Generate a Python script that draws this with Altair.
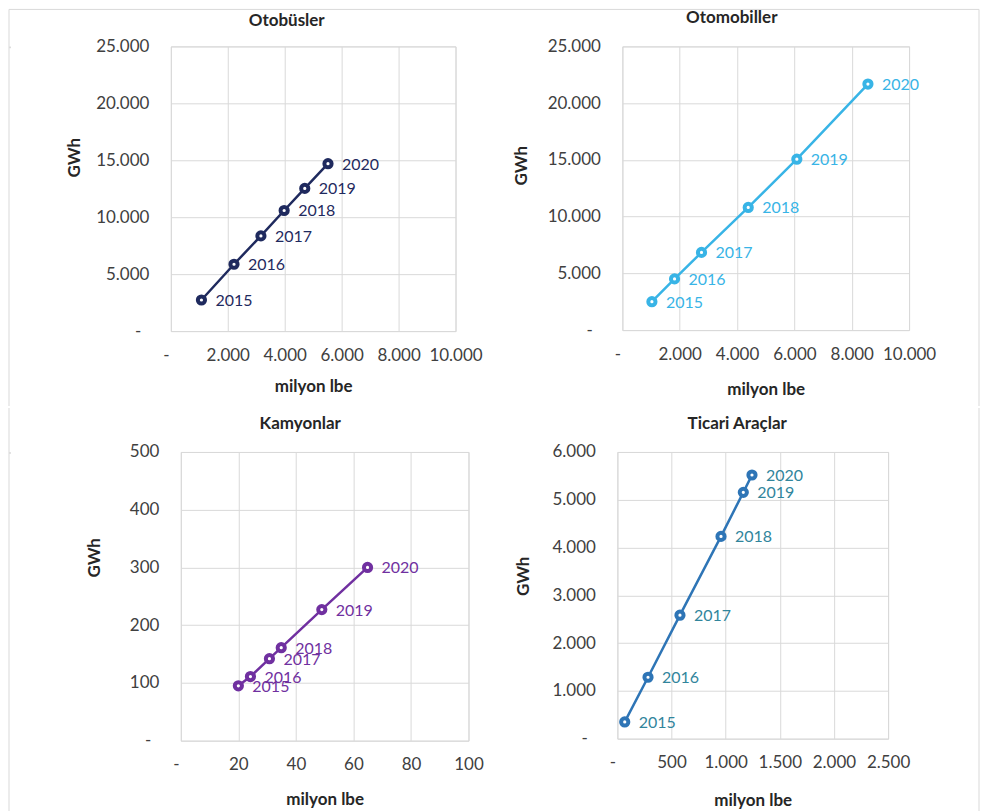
import altair as alt
import pandas as pd

years = ["2015", "2016", "2017", "2018", "2019", "2020"]

bus_x = [1075, 2219, 3164, 3980, 4704, 5520]
bus_y = [2730, 5870, 8360, 10590, 12530, 14700]

car_x = [1030, 1820, 2760, 4390, 6085, 8565]
car_y = [2500, 4510, 6845, 10805, 15060, 21680]

truck_x = [20.0, 24.2, 30.8, 34.9, 49.0, 64.9]
truck_y = [95, 111, 142, 161, 227, 300]

comm_x = [68, 283, 578, 957, 1163, 1243]
comm_y = [350, 1285, 2584, 4233, 5155, 5518]

bus_xticks = [0, 2000, 4000, 6000, 8000, 10000]
bus_yticks = [0, 5000, 10000, 15000, 20000, 25000]
car_xticks = [0, 2000, 4000, 6000, 8000, 10000]
car_yticks = [0, 5000, 10000, 15000, 20000, 25000]
truck_xticks = [0, 20, 40, 60, 80, 100]
truck_yticks = [0, 100, 200, 300, 400, 500]
comm_xticks = [0, 500, 1000, 1500, 2000, 2500]
comm_yticks = [0, 1000, 2000, 3000, 4000, 5000, 6000]

FONT = "Lato"
BORDER = "#d9d9d9"
LBL_EXPR = "datum.value == 0 ? '-' : replace(format(datum.value, ','), ',', '.')"


def one():
    return alt.Chart(pd.DataFrame({"g": [0]}))


def vrule(xpx, y1, y2):
    return one().mark_rule(color=BORDER, strokeWidth=1).encode(
        x=alt.value(xpx), y=alt.value(y1), y2=alt.value(y2))


def hrule(ypx, x1, x2):
    return one().mark_rule(color=BORDER, strokeWidth=1).encode(
        y=alt.value(ypx), x=alt.value(x1), x2=alt.value(x2))


def spacer(layers):
    return alt.layer(*layers).properties(width=1, height=1)


def panel(xs, ys, title, line_color, text_color, xticks, yticks, w, h,
          title_x, title_y, gwh_x, gwh_y, xt_y, extra=()):
    df = pd.DataFrame({"x": xs, "y": ys, "year": years})
    x = alt.X("x:Q",
              scale=alt.Scale(domain=[xticks[0], xticks[-1]], nice=False),
              axis=alt.Axis(values=xticks, title="milyon lbe", titleY=xt_y,
                            titleBaseline="top", titleAlign="center",
                            labelOverlap=False, labelFlush=False,
                            labelOffset={"condition": {"test": "datum.value == 0", "value": -5},
                                         "value": 0},
                            labelExpr=LBL_EXPR, labelPadding=16))
    y = alt.Y("y:Q",
              scale=alt.Scale(domain=[yticks[0], yticks[-1]], nice=False),
              axis=alt.Axis(values=yticks, title="GWh", titleX=gwh_x, titleY=gwh_y,
                            titleAngle=270, titleAlign="center", titleBaseline="bottom",
                            labelOverlap=False, labelFlush=False,
                            labelPadding={"condition": {"test": "datum.value == 0", "value": 30},
                                          "value": 22},
                            labelExpr=LBL_EXPR))
    base = alt.Chart(df)
    line = base.mark_line(color=line_color, strokeWidth=2.5).encode(x=x, y=y, order="year:O")
    pts = base.mark_point(shape="circle", filled=True, fill="white", stroke=line_color,
                          strokeWidth=4, size=52, opacity=1).encode(x=x, y=y)
    txt = base.mark_text(align="left", baseline="middle", dx=14, dy=1, font=FONT,
                         fontSize=16, color=text_color).encode(x=x, y=y, text="year:N")
    ttl = one().mark_text(align="center", baseline="alphabetic", font=FONT, fontSize=17,
                          fontWeight="bold", color="#262626").encode(
        x=alt.value(title_x), y=alt.value(title_y), text=alt.value(title))
    layers = [line, pts, txt, ttl] + list(extra)
    return alt.layer(*layers).properties(width=w, height=h)


p1 = panel(bus_x, bus_y, "Otobüsler", "#1f2a5e", "#1f2a5e", bus_xticks, bus_yticks,
           285, 285, 116, -20, -87.6, 111, 47)
p2 = panel(car_x, car_y, "Otomobiller", "#38b4e6", "#38b4e6", car_xticks, car_yticks,
           287, 284, 109.5, -23, -91.6, 119, 51,
           extra=[vrule(357, -37, 360)])
p3 = panel(truck_x, truck_y, "Kamyonlar", "#7030a0", "#7030a0", truck_xticks, truck_yticks,
           288, 289, 119.5, -22.5, -77.6, 105.5, 51)
p4 = panel(comm_x, comm_y, "Ticari Araçlar", "#2e75b6", "#31859c", comm_xticks, comm_yticks,
           271, 287, 120, -22.5, -84.6, 124, 54,
           extra=[vrule(362, -44, 362)])

s1 = spacer([vrule(0, -37, 360), hrule(-37, 0, 971)])
s2 = spacer([vrule(0, -44, 362)])

row1 = alt.hconcat(s1, alt.hconcat(p1, p2, spacing=167, bounds="flush"),
                   spacing=161, bounds="flush")
row2 = alt.hconcat(s2, alt.hconcat(p3, p4, spacing=149, bounds="flush"),
                   spacing=171, bounds="flush")

chart = alt.concat(row1, row2, columns=1, spacing=0, align="none").properties(
    padding=0).configure_axis(
    grid=True, gridColor="#d9d9d9", gridWidth=1, domain=False, ticks=False,
    labelFont=FONT, labelFontSize=17, labelColor="#404040",
    titleFont=FONT, titleFontSize=17, titleFontWeight="bold", titleColor="#262626"
).configure_view(stroke="#d9d9d9", strokeWidth=1)

chart.save("out.html", embed_options={"renderer": "svg", "actions": False})
